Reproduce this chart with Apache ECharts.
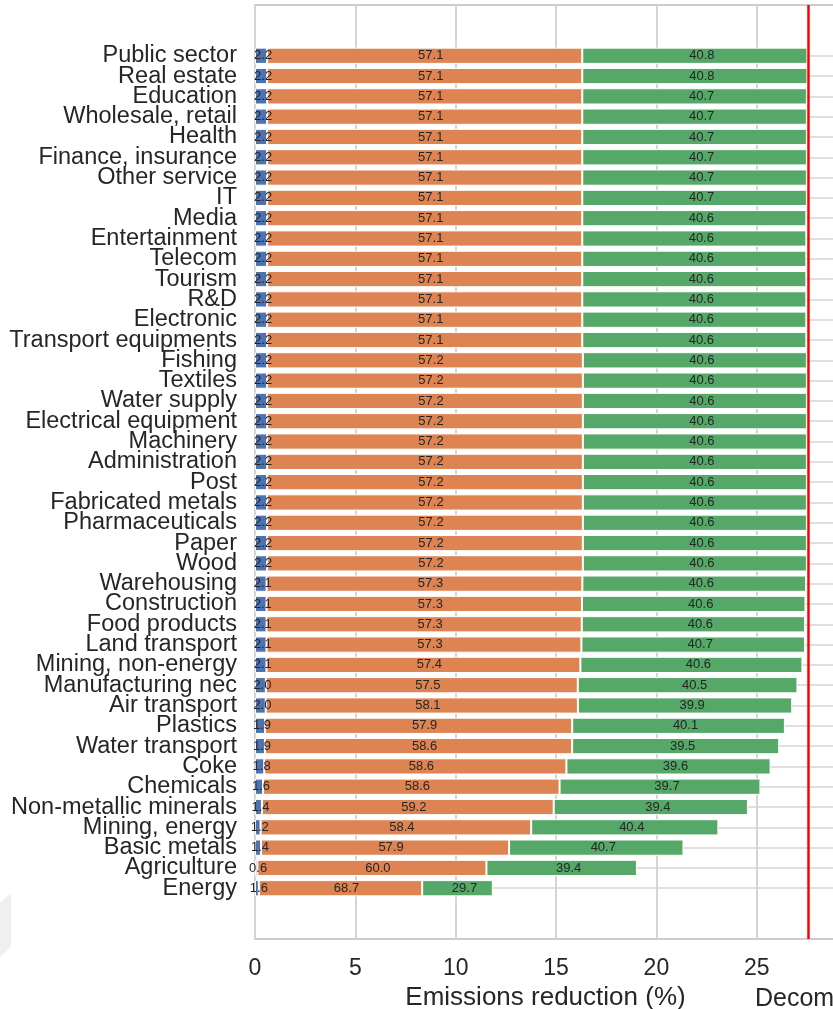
<!DOCTYPE html>
<html>
<head>
<meta charset="utf-8">
<script src="https://cdn.jsdelivr.net/npm/echarts@6/dist/echarts.min.js"></script>
<style>
  html, body { margin: 0; padding: 0; overflow: hidden; background: #ffffff; }
  #chart { width: 900px; height: 1009px; }
</style>
</head>
<body>
<div id="chart"></div>
<script>
// Sectors, top to bottom
const sectors = [
  'Public sector', 'Real estate', 'Education', 'Wholesale, retail', 'Health',
  'Finance, insurance', 'Other service', 'IT', 'Media', 'Entertainment',
  'Telecom', 'Tourism', 'R&D', 'Electronic', 'Transport equipments',
  'Fishing', 'Textiles', 'Water supply', 'Electrical equipment', 'Machinery',
  'Administration', 'Post', 'Fabricated metals', 'Pharmaceuticals', 'Paper',
  'Wood', 'Warehousing', 'Construction', 'Food products', 'Land transport',
  'Mining, non-energy', 'Manufacturing nec', 'Air transport', 'Plastics', 'Water transport',
  'Coke', 'Chemicals', 'Non-metallic minerals', 'Mining, energy', 'Basic metals',
  'Agriculture', 'Energy'
];

// Total emissions reduction per sector (%)
const totalReduction = [
  27.5, 27.5, 27.5, 27.5, 27.5,
  27.5, 27.5, 27.5, 27.5, 27.5,
  27.5, 27.5, 27.5, 27.5, 27.5,
  27.5, 27.5, 27.5, 27.5, 27.5,
  27.5, 27.5, 27.5, 27.5, 27.5,
  27.5, 27.46, 27.43, 27.41, 27.38,
  27.25, 27.03, 26.77, 26.43, 26.12,
  25.69, 25.21, 24.56, 23.09, 21.35,
  19.03, 11.85
];

// Share of each component in the total (%)
const shareBlue = [
  2.2, 2.2, 2.2, 2.2, 2.2, 2.2, 2.2, 2.2, 2.2, 2.2,
  2.2, 2.2, 2.2, 2.2, 2.2, 2.2, 2.2, 2.2, 2.2, 2.2,
  2.2, 2.2, 2.2, 2.2, 2.2, 2.2, 2.1, 2.1, 2.1, 2.1,
  2.1, 2.0, 2.0, 1.9, 1.9, 1.8, 1.6, 1.4, 1.2, 1.4,
  0.6, 1.6
];
const shareOrange = [
  57.1, 57.1, 57.1, 57.1, 57.1, 57.1, 57.1, 57.1, 57.1, 57.1,
  57.1, 57.1, 57.1, 57.1, 57.1, 57.2, 57.2, 57.2, 57.2, 57.2,
  57.2, 57.2, 57.2, 57.2, 57.2, 57.2, 57.3, 57.3, 57.3, 57.3,
  57.4, 57.5, 58.1, 57.9, 58.6, 58.6, 58.6, 59.2, 58.4, 57.9,
  60.0, 68.7
];
const shareGreen = [
  40.8, 40.8, 40.7, 40.7, 40.7, 40.7, 40.7, 40.7, 40.6, 40.6,
  40.6, 40.6, 40.6, 40.6, 40.6, 40.6, 40.6, 40.6, 40.6, 40.6,
  40.6, 40.6, 40.6, 40.6, 40.6, 40.6, 40.6, 40.6, 40.6, 40.7,
  40.6, 40.5, 39.9, 40.1, 39.5, 39.6, 39.7, 39.4, 40.4, 40.7,
  39.4, 29.7
];

// Reference level (vertical red line)
const referenceLevel = 27.55;

const xTicks = { min: 0, max: 28.95, interval: 5 };

const FONT = "'Liberation Sans', Arial, Helvetica, sans-serif";
const TEXT = '#262626';
const GRID = '#d4d4d4';

// Empty slots above and below the sector list give the axis its outer margin
const PAD = 2;
const padNames = n => Array.from({ length: n }, (_, k) => ' '.repeat(k + 1));
const axisCategories = [...padNames(PAD), ...sectors, ...padNames(PAD + 2).slice(PAD)];

function segmentData(shares) {
  const pad = Array(PAD).fill(null);
  const body = sectors.map((_, i) => ({
    value: totalReduction[i] * shares[i] / 100,
    share: shares[i]
  }));
  return [...pad, ...body, ...pad];
}

function segLabel(dx) {
  return {
    show: true,
    position: 'inside',
    offset: [dx, 0],
    fontFamily: FONT,
    fontSize: 13,
    color: '#262626',
    formatter: p => (p.data && p.data.share != null) ? p.data.share.toFixed(1) : ''
  };
}

const barBase = {
  type: 'bar',
  stack: 'total',
  barWidth: '80%',
  animation: false,
  z: 2
};

const chart = echarts.init(document.getElementById('chart'), null, { renderer: 'canvas' });

chart.setOption({
  backgroundColor: '#ffffff',
  animation: false,
  grid: {
    left: 255,
    right: 64,
    top: 5,
    bottom: 70,
    containLabel: false,
    outerBoundsMode: 'none',
    show: true,
    borderColor: '#cccccc',
    borderWidth: 2,
    backgroundColor: 'transparent'
  },
  xAxis: {
    type: 'value',
    min: xTicks.min,
    max: xTicks.max,
    interval: xTicks.interval,
    axisLine: { show: false },
    axisTick: { show: false },
    axisLabel: {
      fontFamily: FONT, fontSize: 23, color: TEXT, margin: 18,
      showMaxLabel: false,
      formatter: v => (v % 5 === 0 ? String(v) : '')
    },
    splitLine: { show: true, lineStyle: { color: GRID, width: 2 } },
    name: 'Emissions reduction (%)',
    nameLocation: 'middle',
    nameGap: 46,
    nameTextStyle: { fontFamily: FONT, fontSize: 26, color: TEXT }
  },
  yAxis: {
    type: 'category',
    inverse: true,
    data: axisCategories,
    axisLine: { show: false },
    axisTick: { show: false },
    splitLine: { show: false },
    axisLabel: {
      interval: 0,
      fontFamily: FONT, fontSize: 23.5, color: TEXT, margin: 18
    }
  },
  series: [
    Object.assign({}, barBase, {
      name: 'Part 1',
      data: segmentData(shareBlue),
      itemStyle: { color: '#4c72b0', borderColor: '#ffffff', borderWidth: 1 },
      label: segLabel(2),
      markLine: {
        silent: true,
        z: 1,
        symbol: 'none',
        animation: false,
        label: { show: false },
        lineStyle: { color: GRID, width: 1.5, type: 'solid' },
        emphasis: { disabled: true },
        data: sectors.map(s => ({ yAxis: s }))
      }
    }),
    Object.assign({}, barBase, {
      name: 'Part 2',
      data: segmentData(shareOrange),
      itemStyle: { color: '#dd8452', borderColor: '#ffffff', borderWidth: 1 },
      label: segLabel(6)
    }),
    Object.assign({}, barBase, {
      name: 'Part 3',
      data: segmentData(shareGreen),
      itemStyle: { color: '#55a868', borderColor: '#ffffff', borderWidth: 1 },
      label: segLabel(7),
      markLine: {
        silent: true,
        z: 6,
        symbol: 'none',
        animation: false,
        label: { show: false },
        lineStyle: { color: '#ff0000', width: 2.5, type: 'solid' },
        emphasis: { disabled: true },
        data: [{ xAxis: referenceLevel }]
      }
    })
  ],
  graphic: [
    {
      type: 'polygon',
      silent: true,
      shape: { points: [[0, 903], [11, 893], [11, 947], [0, 957]] },
      style: { fill: '#efefef' }
    },
    {
      type: 'text',
      silent: true,
      left: 755,
      top: 987,
      style: { text: 'Decomposition', fontFamily: FONT, fontSize: 25, fill: TEXT }
    }
  ]
});
</script>
</body>
</html>
